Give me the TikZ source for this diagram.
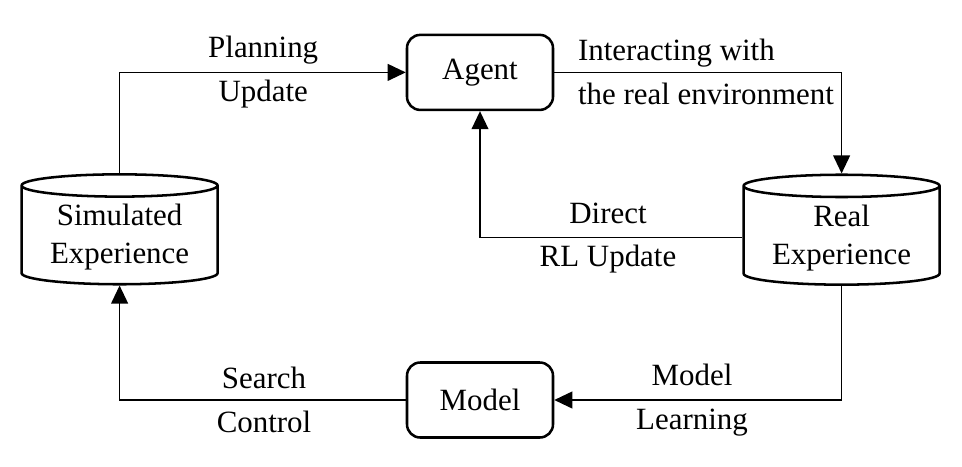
\documentclass[tikz,border=0pt]{standalone}
\usepackage{fontspec}
\setmainfont{Liberation Serif}
\usepackage{tikz}
\usetikzlibrary{shapes.geometric,arrows.meta,calc}

\tikzset{
  block/.style={draw, line width=1.8pt, rounded corners=0.33cm, minimum width=3.65cm, minimum height=1.875cm},
  store/.style={draw, line width=1.8pt, cylinder, shape border rotate=90, aspect=0.15, inner ysep=4.5pt, minimum width=4.9cm, minimum height=2.3cm, align=center, font=\fontsize{22}{27}\selectfont},
  flow/.style={line width=1pt, -{Triangle[length=0.45cm,width=0.42cm]}},
  lbl/.style={align=center}
}

\begin{document}
\begin{tikzpicture}[font=\fontsize{22}{31}\selectfont]
\useasboundingbox (0,0) rectangle (24.05,11.65);

\node[block] (agent) at (12.0,9.84) {Agent};
\node[block] (model) at (12.0,1.65) {Model};
\node[store] (sim) at (2.99,5.72) {Simulated\\Experience};
\node[store] (real) at (21.04,5.71) {Real\\Experience};

% planning loop
\draw[flow] (sim.north) |- (agent.west);
\draw[flow] (model.west) -| (sim.south);
% acting / learning loop
\draw[flow] (agent.east) -| (real.north);
\draw[flow] (real.south) |- (model.east);
\draw[flow] (real.west) -| (agent.south);

\node[lbl] (lplan) at (6.58,9.85) {Planning\\Update};
\node[lbl, align=left] (lint) at (17.65,9.85) {Interacting with\\the real environment};
\node[lbl] (ldir) at (15.2,5.7) {Direct\\RL Update};
\node[lbl] (lsearch) at (6.6,1.65) {Search\\Control};
\node[lbl] (llearn) at (17.3,1.65) {Model\\Learning};
\end{tikzpicture}
\end{document}
